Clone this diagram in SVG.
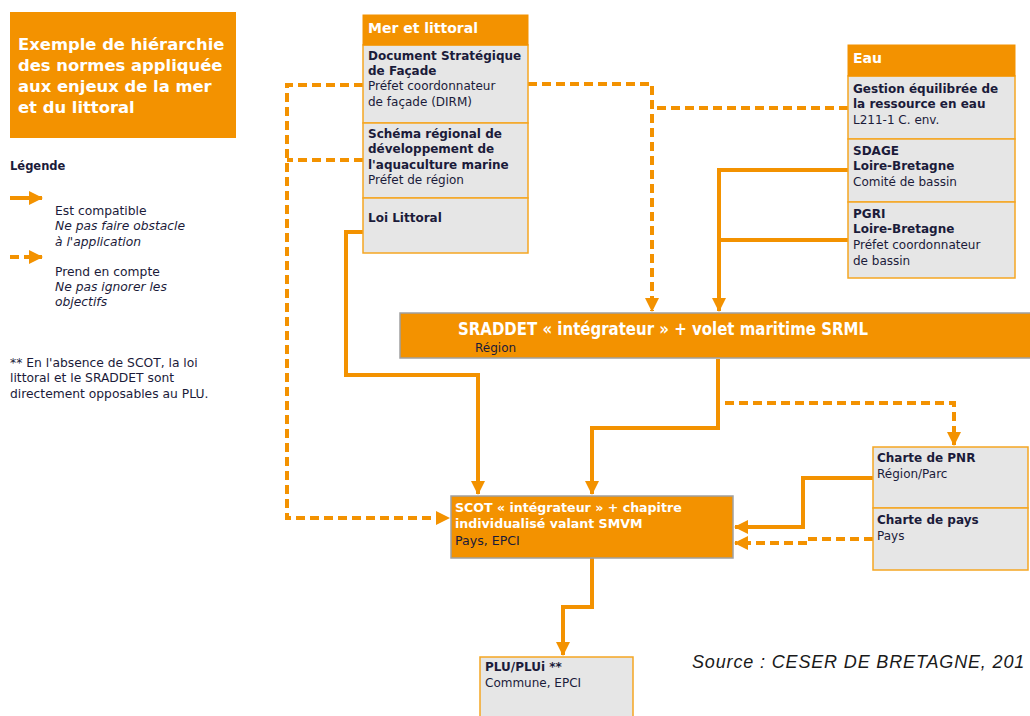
<svg xmlns="http://www.w3.org/2000/svg" width="1030" height="716" viewBox="0 0 1030 716">
<defs>
<style>
text{font-family:"DejaVu Sans",Verdana,sans-serif;fill:#1b1b3a}
.t{font-size:12px}
.l{font-size:12.3px}
.b{font-weight:bold}
.i{font-style:italic}
.w{fill:#ffffff}
.hdr{fill:#F39200;stroke:#F39200;stroke-width:1}
.sec{fill:#E6E6E6;stroke:#F5A623;stroke-width:1.5}
.obox{fill:#F39200;stroke:#A0A0A0;stroke-width:1.5}
.s{fill:none;stroke:#F39200;stroke-width:4}
.d{fill:none;stroke:#F39200;stroke-width:4;stroke-dasharray:9 5}
</style>
<marker id="ah" markerUnits="userSpaceOnUse" markerWidth="14" markerHeight="14" viewBox="0 0 14 14" refX="13" refY="7" orient="auto">
<path d="M0,0 L14,7 L0,14 Z" fill="#F39200"/>
</marker>
</defs>

<g id="title">
<rect x="10" y="12" width="226" height="126" fill="#F39200"/>
<text class="w b" x="18" y="50" font-size="16.4">Exemple de hiérarchie</text>
<text class="w b" x="18" y="71" font-size="16.4">des normes appliquée</text>
<text class="w b" x="18" y="92" font-size="16.4">aux enjeux de la mer</text>
<text class="w b" x="18" y="113" font-size="16.4">et du littoral</text>
</g>

<g id="legend">
<text class="b" x="10" y="170" font-size="11.5">Légende</text>
<line class="s" x1="10" y1="198" x2="42" y2="198" marker-end="url(#ah)"/>
<text class="l" x="55" y="215">Est compatible</text>
<text class="l i" x="55" y="230">Ne pas faire obstacle</text>
<text class="l i" x="55" y="246">à l'application</text>
<line class="d" x1="10" y1="257" x2="42" y2="257" marker-end="url(#ah)"/>
<text class="l" x="55" y="276">Prend en compte</text>
<text class="l i" x="55" y="291">Ne pas ignorer les</text>
<text class="l i" x="55" y="306">objectifs</text>
<text class="l" x="10" y="367">** En l'absence de SCOT, la loi</text>
<text class="l" x="10" y="382">littoral et le SRADDET sont</text>
<text class="l" x="10" y="398">directement opposables au PLU.</text>
</g>

<g id="connectors">
<polyline class="d" points="363,85 287,85 287,518 449,518" marker-end="url(#ah)"/>
<polyline class="d" points="363,160 287,160"/>
<polyline class="s" points="363,232 346,232 346,375 478,375 478,494" marker-end="url(#ah)"/>
<polyline class="d" points="528,84 652,84 652,311" marker-end="url(#ah)"/>
<polyline class="d" points="848,108 656,108"/>
<polyline class="s" points="848,170 719,170 719,311" marker-end="url(#ah)"/>
<polyline class="s" points="848,240 719,240"/>
<polyline class="s" points="718,359 718,428 592,428 592,494" marker-end="url(#ah)"/>
<polyline class="d" points="725,403 954,403 954,445" marker-end="url(#ah)"/>
<polyline class="s" points="873,478 803,478 803,527 735,527" marker-end="url(#ah)"/>
<polyline class="d" points="873,539 805,539 805,543 735,543" marker-end="url(#ah)"/>
<polyline class="s" points="592,558 592,607 563,607 563,655" marker-end="url(#ah)"/>
</g>

<g id="mer">
<rect class="sec" x="363" y="45" width="165" height="78"/>
<rect class="sec" x="363" y="123" width="165" height="75"/>
<rect class="sec" x="363" y="198" width="165" height="55"/>
<rect class="hdr" x="363" y="15" width="165" height="30"/>
<text class="w b" x="368" y="33" font-size="14">Mer et littoral</text>
<text class="t b" x="368" y="60">Document Stratégique</text>
<text class="t b" x="368" y="75">de Façade</text>
<text class="t" x="368" y="90">Préfet coordonnateur</text>
<text class="t" x="368" y="106">de façade (DIRM)</text>
<text class="t b" x="368" y="138">Schéma régional de</text>
<text class="t b" x="368" y="153">développement de</text>
<text class="t b" x="368" y="169">l'aquaculture marine</text>
<text class="t" x="368" y="184">Préfet de région</text>
<text class="t b" x="368" y="222">Loi Littoral</text>
</g>

<g id="eau">
<rect class="sec" x="848" y="76" width="167" height="63"/>
<rect class="sec" x="848" y="139" width="167" height="63"/>
<rect class="sec" x="848" y="202" width="167" height="76"/>
<rect class="hdr" x="848" y="45" width="167" height="31"/>
<text class="w b" x="853" y="63" font-size="14">Eau</text>
<text class="t b" x="853" y="93">Gestion équilibrée de</text>
<text class="t b" x="853" y="108">la ressource en eau</text>
<text class="t" x="853" y="124">L211-1 C. env.</text>
<text class="t b" x="853" y="155">SDAGE</text>
<text class="t b" x="853" y="170">Loire-Bretagne</text>
<text class="t" x="853" y="186">Comité de bassin</text>
<text class="t b" x="853" y="218">PGRI</text>
<text class="t b" x="853" y="233">Loire-Bretagne</text>
<text class="t" x="853" y="249">Préfet coordonnateur</text>
<text class="t" x="853" y="265">de bassin</text>
</g>

<g id="sraddet">
<rect class="obox" x="400" y="313" width="640" height="45"/>
<text class="w b" x="458" y="335" font-size="18" textLength="410" lengthAdjust="spacingAndGlyphs">SRADDET « intégrateur » + volet maritime SRML</text>
<text class="t" x="475" y="352">Région</text>
</g>

<g id="scot">
<rect class="obox" x="451" y="496" width="282" height="62"/>
<text class="w b" x="455" y="512" font-size="12.6">SCOT « intégrateur » + chapitre</text>
<text class="w b" x="455" y="528" font-size="12.6">individualisé valant SMVM</text>
<text x="455" y="545" font-size="12.6">Pays, EPCI</text>
</g>

<g id="charte">
<rect class="sec" x="873" y="447" width="155" height="61"/>
<rect class="sec" x="873" y="508" width="155" height="62"/>
<text class="t b" x="877" y="462">Charte de PNR</text>
<text class="t" x="877" y="478">Région/Parc</text>
<text class="t b" x="877" y="524">Charte de pays</text>
<text class="t" x="877" y="540">Pays</text>
</g>

<g id="plu">
<rect class="sec" x="480" y="657" width="153" height="70"/>
<text class="t b" x="485" y="671">PLU/PLUi **</text>
<text class="t" x="485" y="687">Commune, EPCI</text>
</g>

<text x="692" y="668" font-style="italic" font-size="18" letter-spacing="0.85" style="font-family:'Liberation Sans',Arial,sans-serif;fill:#1a1a1a">Source : CESER DE BRETAGNE, 201</text>
</svg>
